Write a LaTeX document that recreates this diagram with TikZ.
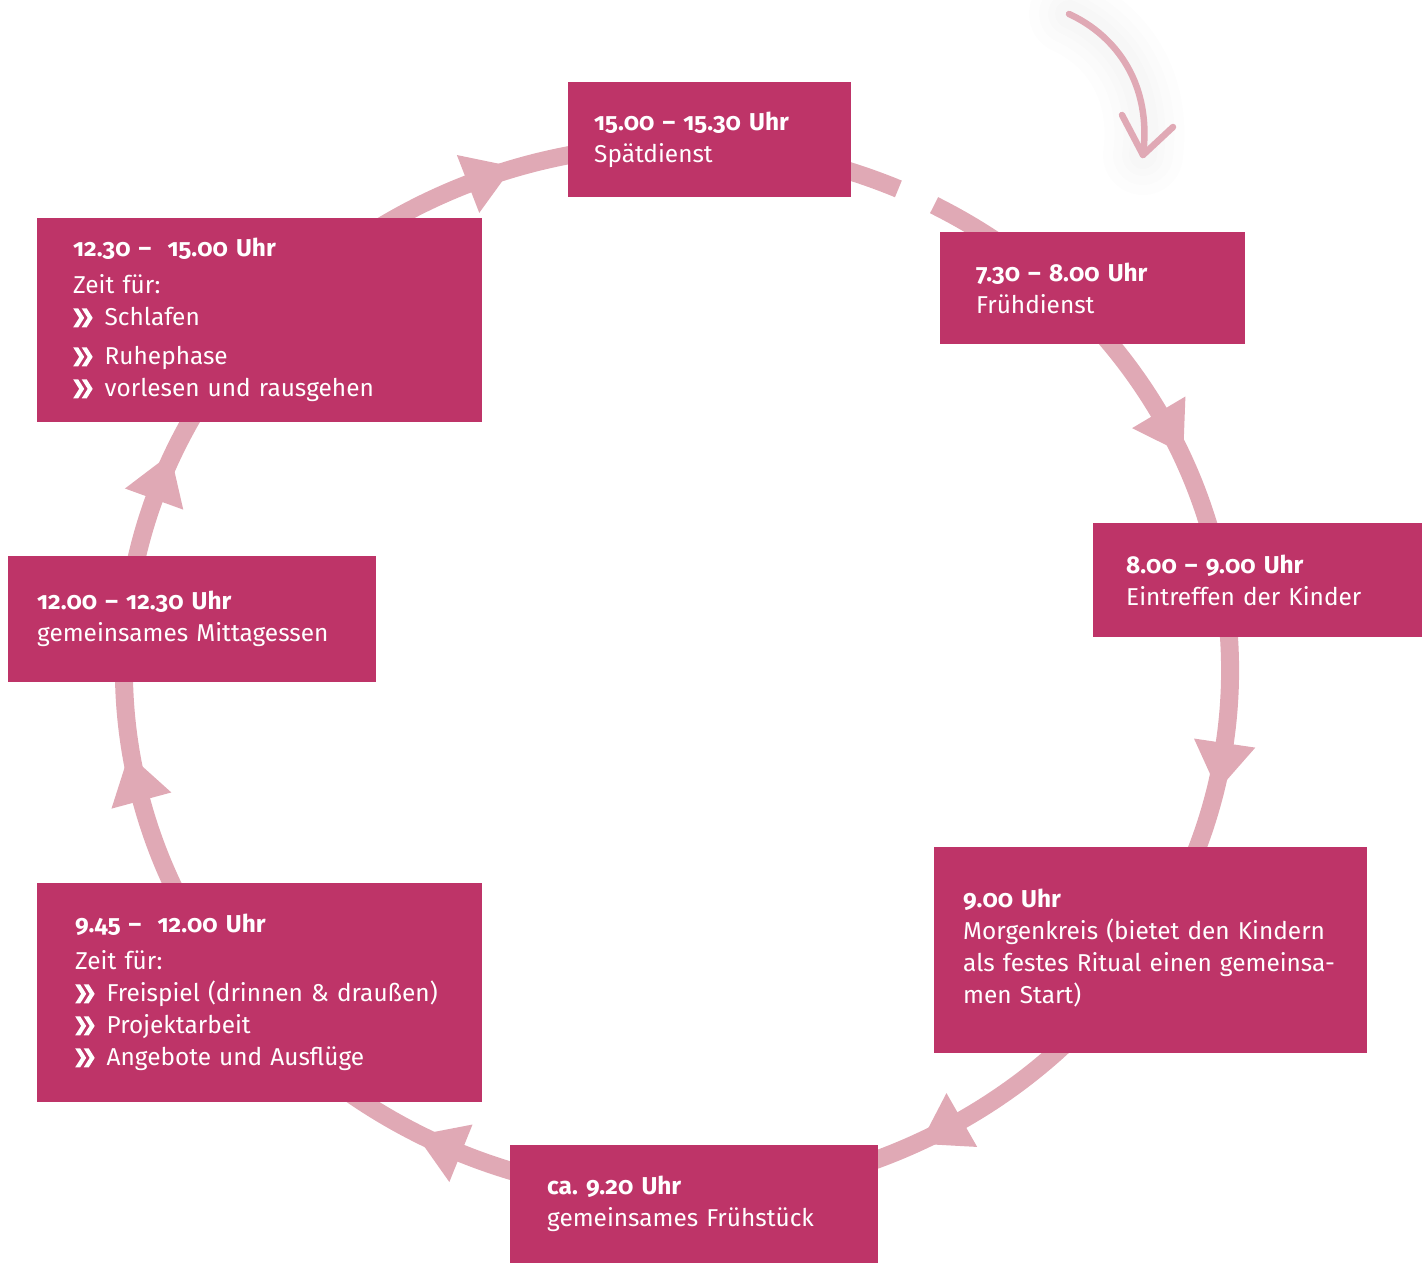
\documentclass[tikz,border=0pt]{standalone}
\usepackage{fontspec}
\setmainfont{Fira Sans}[Numbers=OldStyle,RawFeature=+onum]
\definecolor{boxc}{RGB}{190,52,104}
\definecolor{ringc}{RGB}{224,169,181}
\newcommand{\chev}{\tikz[baseline=0pt,x=1pt,y=1pt]{%
  \fill[white] (0,-1.5) -- (5,-1.5) -- (11,8) -- (5,17.5) -- (0,17.5) -- (6,8) -- cycle;
  \fill[white] (8.5,-1.5) -- (13.5,-1.5) -- (19.5,8) -- (13.5,17.5) -- (8.5,17.5) -- (14.5,8) -- cycle;}\hspace{12pt}}
\newcommand{\tline}[1]{\mbox{#1}}
\tikzset{
  box/.style={fill=boxc, text=white, anchor=north west, inner ysep=0pt, align=left,
    font=\fontsize{24.4pt}{32pt}\selectfont},
  ring/.style={draw=ringc, line width=18pt},
  head/.style={fill=ringc}
}
\begin{document}
\begin{tikzpicture}[x=1pt,y=-1pt]
\useasboundingbox (0,0) rectangle (1425,1264);
% ring
\draw[ring] ([shift={(-62.3:553 and 525)}]677,670) arc[start angle=-62.3, end angle=293.6, x radius=553, y radius=525];
\foreach \t in {-29.4,8,59,113,165.6,199,247.8}{
  \pgfmathsetmacro{\px}{677+553*cos(\t)}
  \pgfmathsetmacro{\py}{670+525*sin(\t)}
  \pgfmathsetmacro{\ang}{atan2(-525*cos(\t), -553*sin(\t))}
  \fill[head, shift={(\px,\py)}, rotate=\ang] (0,-31) -- (48,0) -- (0,31) -- cycle;
}
% start arrow
\coordinate (sa) at (1069,14);
\coordinate (se) at (1143,155);
\foreach \w in {80,60,42,28}{
  \draw[black, opacity=0.006, line width=\w pt, line cap=round] (sa) .. controls (1117,36) and (1152,85) .. (se);
}
\draw[ringc, line width=6.5pt, line cap=round, line join=round] (sa) .. controls (1117,36) and (1152,85) .. (se);
\draw[ringc, line width=6.5pt, line cap=round, line join=round] (1122,115) -- (se) -- (1173,127);
% boxes
\node[box, minimum width=283pt, minimum height=115pt, inner xsep=26pt, text width=231pt] (spaet) at (568,82)
  {\tline{\textbf{15.00 – 15.30 Uhr}}\\\tline{Spätdienst}};
\node[box, minimum width=305pt, minimum height=112pt, inner xsep=36pt, text width=233pt] (frueh) at (940,232)
  {\tline{\textbf{7.30 – 8.00 Uhr}}\\\tline{Frühdienst}};
\node[box, minimum width=329pt, minimum height=114pt, inner xsep=33pt, text width=263pt] (eintr) at (1093,523)
  {\tline{\textbf{8.00 – 9.00 Uhr}}\\\tline{Eintreffen der Kinder}};
\node[box, minimum width=433pt, minimum height=206pt, inner xsep=29pt, text width=375pt] (morgen) at (934,847)
  {\tline{\textbf{9.00 Uhr}}\\\tline{Morgenkreis (bietet den Kindern}\\\tline{als festes Ritual einen gemeinsa-}\\\tline{men Start)}\\[-25pt]\mbox{}};
\node[box, minimum width=368pt, minimum height=118pt, inner xsep=37pt, text width=294pt] (fruehst) at (510,1145)
  {\tline{\textbf{ca.\ 9.20 Uhr}}\\\tline{gemeinsames Frühstück}};
\node[box, minimum width=445pt, minimum height=219pt, inner xsep=38pt, text width=369pt] (zeitA) at (37,883)
  {\tline{\textbf{9.45 – \ 12.00 Uhr}}\\[5pt]\tline{Zeit für:}\\\tline{\chev Freispiel (drinnen \& draußen)}\\\tline{\chev Projektarbeit}\\\tline{\chev Angebote und Ausflüge}};
\node[box, minimum width=368pt, minimum height=126pt, inner xsep=29pt, text width=310pt] (mittag) at (8,556)
  {\tline{\textbf{12.00 – 12.30 Uhr}}\\\tline{gemeinsames Mittagessen}};
\node[box, minimum width=445pt, minimum height=204pt, inner xsep=36pt, text width=373pt] (zeitB) at (37,218)
  {\tline{\textbf{12.30 – \ 15.00 Uhr}}\\[5pt]\tline{Zeit für:}\\\tline{\chev Schlafen}\\[7pt]\tline{\chev Ruhephase}\\\tline{\chev vorlesen und rausgehen}};
\end{tikzpicture}
\end{document}
